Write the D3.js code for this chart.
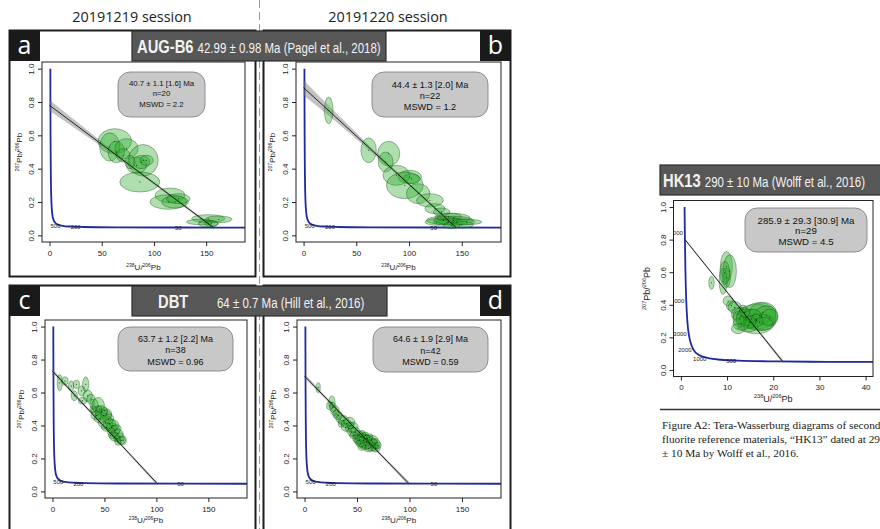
<!DOCTYPE html>
<html>
<head>
<meta charset="utf-8">
<script src="https://cdn.jsdelivr.net/npm/d3@7"></script>
<style>
body { margin: 0; background: #fff; }
svg { display: block; }
</style>
</head>
<body>
<script>
const W = 880, H = 529;

// ---------- data ----------
const sessions = ["20191219 session", "20191220 session"];
const xTicksYoung = [0, 50, 100, 150];
const xTicksOld = [0, 10, 20, 30, 40];
const yTicks = [0, 0.2, 0.4, 0.6, 0.8, 1.0];

// concordia (238U/206Pb, 207Pb/206Pb)
const concordia = [[0.80,1.0],[0.853,0.846],[0.99,0.597],[1.163,0.425],[1.687,0.223],[2.749,0.123],
  [3.817,0.0936],[5.96,0.0725],[8.72,0.0628],[12.41,0.0573],[20.99,0.0524],[31.73,0.0501],
  [63.97,0.048],[128.4,0.047],[200,0.0465]];
const concLabelsYoung = [[12.41,0.0573,"500"],[31.73,0.0501,"200"],[128.4,0.047,"50"]];
const concLabelsOld = [[0.853,0.846,"5000"],[1.163,0.425,"4000"],[1.687,0.223,"3000"],
  [2.749,0.123,"2000"],[5.96,0.0725,"1000"],[12.41,0.0573,"500"]];

// ellipses: [x, y, half-width x, half-height y]
const ellA = [[62.5,0.565,16,0.075],[57.7,0.53,9.6,0.085],[64,0.50,8,0.065],[73.7,0.52,11.2,0.06],
  [89.7,0.45,14.4,0.095],[83.3,0.42,9.6,0.05],[88,0.44,8,0.04],[86.5,0.32,19.2,0.06],
  [115.4,0.24,14.4,0.044],[113.8,0.20,17.6,0.044],[120.2,0.20,12.8,0.036],[123.4,0.22,11.2,0.03],
  [152,0.10,16,0.024],[162,0.096,12.8,0.02],[144,0.08,12.8,0.016],[152,0.07,9.6,0.02],
  [155,0.07,6.4,0.016],[70.5,0.48,6.4,0.04],[77,0.44,4.8,0.04],[93,0.45,6.4,0.03]];
const ellB = [[23.8,0.75,4.1,0.08],[61.7,0.51,7.3,0.074],[80.7,0.49,10.5,0.074],[77.8,0.44,7,0.06],
  [88,0.36,12.7,0.06],[100.7,0.35,11.1,0.04],[102.3,0.34,7.9,0.03],[96,0.30,17.5,0.08],
  [108.7,0.25,11.1,0.06],[119.8,0.21,12.7,0.04],[124.6,0.16,9.5,0.03],[130.9,0.14,7.9,0.024],
  [137.3,0.11,12.7,0.024],[142,0.104,15.9,0.028],[142,0.09,19.1,0.024],[132.5,0.09,15.9,0.024],
  [137.3,0.08,14.3,0.02],[145.2,0.08,17.5,0.02],[150,0.064,11.1,0.02],[140.4,0.06,7.9,0.02],
  [154.8,0.08,14.3,0.016],[126.2,0.08,11.1,0.02]];
const ellC = [[7,0.66,2.5,0.05],[12,0.67,3,0.025],[18,0.64,2.5,0.03],[23,0.65,3,0.025],
  [28,0.61,3.5,0.03],[32,0.65,3,0.045],[34,0.58,4.5,0.035],[37,0.56,4,0.03],[40,0.53,4,0.03],
  [42,0.49,5,0.025],[44,0.52,6,0.05],[47,0.48,6,0.04],[49,0.46,8,0.035],[42,0.46,5,0.025],
  [52,0.47,5,0.03],[54,0.44,5,0.03],[46,0.44,6,0.025],[51,0.42,7,0.04],[55,0.41,6,0.03],
  [57,0.39,5,0.025],[58,0.40,6,0.035],[52,0.39,5,0.025],[60,0.37,5,0.03],[62,0.38,4,0.025],
  [57,0.36,4,0.025],[63,0.35,5,0.025],[58,0.34,4,0.02],[60,0.33,5,0.025],[65,0.33,4,0.025],
  [62,0.32,3,0.02],[66,0.31,4,0.025],[63,0.30,3,0.02],[68,0.31,3,0.025],[21,0.58,3,0.03],
  [29,0.55,4,0.02],[39,0.50,3,0.02],[45,0.50,2.5,0.02],[50,0.49,3,0.02]];
const ellD = [[13,0.63,2,0.03],[26,0.54,3,0.04],[29,0.49,4,0.03],[32,0.46,4,0.025],[37,0.43,5,0.03],
  [40,0.41,5,0.025],[43,0.42,5,0.03],[46,0.39,5,0.03],[48,0.36,5,0.03],[51,0.34,5,0.03],
  [54,0.33,6,0.03],[56,0.31,8,0.04],[59,0.30,9,0.04],[62,0.29,8,0.03],[58,0.28,6,0.025],
  [64,0.31,6,0.03],[66,0.27,5,0.025],[61,0.26,4,0.02],[67,0.29,5,0.03],[55,0.27,4,0.02],
  [24,0.52,3,0.025],[27,0.51,3,0.03],[30,0.47,3,0.025],[34,0.44,4,0.025],[35,0.41,3,0.02],
  [39,0.39,4,0.025],[42,0.38,3,0.02],[45,0.36,4,0.025],[47,0.34,4,0.02],[50,0.32,4,0.025],
  [52,0.31,5,0.025],[53,0.29,4,0.02],[57,0.32,5,0.025],[60,0.32,4,0.02],[63,0.27,5,0.025],
  [65,0.30,4,0.02],[68,0.26,4,0.02],[70,0.28,3,0.02],[58,0.34,3,0.02],[62,0.33,3,0.02],
  [55,0.35,3,0.02],[44,0.40,3,0.02]];
const ellHK = [[9.86,0.636,1.29,0.091],[10.58,0.606,1.44,0.101],[9.86,0.566,0.86,0.061],
  [9.14,0.545,0.86,0.081],[6.62,0.535,0.58,0.04],[9.5,0.596,1.08,0.071],[10.22,0.424,1.08,0.03],
  [10.94,0.394,1.08,0.03],[11.65,0.384,1.44,0.036],[12.37,0.343,1.44,0.04],[13.09,0.333,1.8,0.051],
  [14.17,0.323,2.16,0.051],[15.25,0.313,2.52,0.061],[16.33,0.313,4.32,0.091],[17.05,0.333,3.6,0.081],
  [17.77,0.354,2.88,0.061],[18.49,0.333,2.52,0.061],[17.05,0.293,3.24,0.051],[19.21,0.323,1.8,0.051],
  [14.53,0.273,2.16,0.04],[13.09,0.283,1.8,0.04],[12.73,0.313,1.44,0.051],[16.33,0.303,1.44,0.04],
  [15.61,0.333,1.8,0.04],[13.81,0.354,1.08,0.03],[12.37,0.253,1.44,0.03],[17.77,0.283,2.16,0.04],
  [13.45,0.374,0.86,0.024],[14.89,0.293,1.29,0.036]];

// discordia end points and band half-widths
const discA = [[0,0.78],[157,0.047]];
const discB = [[0,0.886],[144.7,0.047]];
const discC = [[0,0.73],[100.7,0.048]];
const discD = [[0,0.70],[99.3,0.048]];
const discHK = [[0.9,0.80],[22.05,0.052]];
const bandA = [[0,0.032],[30,0.022],[60,0.012],[90,0.008],[120,0.008],[157,0.01]];
const bandB = [[0,0.045],[24,0.03],[60,0.015],[100,0.008],[144.7,0.008]];
const bandC = [[0,0.012],[30,0.008],[60,0.007],[100.7,0.01]];
const bandD = [[0,0.014],[30,0.009],[60,0.008],[99.3,0.013]];
const bandHK = [[0.9,0.006],[10,0.005],[15,0.007],[22.05,0.012]];

const statsA = ["40.7 ± 1.1 [1.6] Ma", "n=20", "MSWD = 2.2"];
const statsB = ["44.4 ± 1.3 [2.0] Ma", "n=22", "MSWD = 1.2"];
const statsC = ["63.7 ± 1.2 [2.2] Ma", "n=38", "MSWD = 0.96"];
const statsD = ["64.6 ± 1.9 [2.9] Ma", "n=42", "MSWD = 0.59"];
const statsHK = ["285.9 ± 29.3 [30.9] Ma", "n=29", "MSWD = 4.5"];

const bannerNames = ["AUG-B6", "DBT", "HK13"];
const bannerRefs = ["42.99 ± 0.98 Ma (Pagel et al., 2018)", "64 ± 0.7 Ma (Hill et al., 2016)",
  "290 ± 10 Ma (Wolff et al., 2016)"];
const captionLines = ["Figure A2: Tera-Wasserburg diagrams of second",
  "fluorite reference materials, \u201cHK13\u201d dated at 29",
  "± 10 Ma by Wolff et al., 2016."];

const yTitle = [["207",1],["Pb/",0],["206",1],["Pb",0]];
const xTitle = [["238",1],["U/",0],["206",1],["Pb",0]];

// ---------- drawing ----------
const svg = d3.select("body").append("svg").attr("width", W).attr("height", H)
  .style("font-family", "'Liberation Sans', Arial, sans-serif");
svg.append("rect").attr("width", W).attr("height", H).attr("fill", "#fff");

const sans = "'Liberation Sans', Arial, sans-serif";

// session headers + dashed divider
svg.selectAll(".session").data(sessions).enter().append("text")
  .attr("x", (d, i) => i === 0 ? 132 : 388).attr("y", 22)
  .attr("text-anchor", "middle").attr("font-family", "'Open Sans', sans-serif")
  .attr("font-size", 14.4).attr("fill", "#222").text(d => d);
svg.append("line").attr("x1", 259.5).attr("x2", 259.5).attr("y1", 0).attr("y2", H)
  .attr("stroke", "#999").attr("stroke-width", 1).attr("stroke-dasharray", "8,4");

// panel frames + letters
const frames = [
  {l: "a", x: 9.5, y: 30.5, w: 246, h: 246, lx: 9},
  {l: "b", x: 263.5, y: 30.5, w: 247, h: 246, lx: 480},
  {l: "c", x: 9.5, y: 285.5, w: 246, h: 270, lx: 9},
  {l: "d", x: 263.5, y: 285.5, w: 247, h: 270, lx: 480}
];
frames.forEach(f => {
  svg.append("rect").attr("x", f.x).attr("y", f.y).attr("width", f.w).attr("height", f.h)
    .attr("fill", "#fff").attr("stroke", "#1e1e1e").attr("stroke-width", 2);
  svg.append("rect").attr("x", f.lx).attr("y", f.y - 0.5).attr("width", 31).attr("height", 31)
    .attr("fill", "#1a1a1a");
  svg.append("text").attr("x", f.lx + 15.5).attr("y", f.y + 23)
    .attr("text-anchor", "middle").attr("font-family", "'Open Sans', sans-serif")
    .attr("font-size", 25).attr("fill", "#fff").text(f.l);
});

function isoText(parent, x, y, rot, parts, fs) {
  const t = parent.append("text").attr("text-anchor", "middle").attr("font-size", fs)
    .attr("fill", "#222").attr("transform", `translate(${x},${y}) rotate(${rot})`);
  let shift = 0;
  parts.forEach(p => {
    const target = p[1] ? -fs * 0.38 : 0;
    t.append("tspan").attr("dy", target - shift)
      .attr("font-size", p[1] ? fs * 0.62 : fs).text(p[0]);
    shift = target;
  });
  return t;
}

function drawPanel(p) {
  const g = svg.append("g");
  const xPad = (p.xdom[1] - p.xdom[0]) * 0.04;
  const x = d3.scaleLinear().domain([p.xdom[0] - xPad, p.xdom[1] + xPad]).range([p.box.x0, p.box.x1]);
  const y = d3.scaleLinear().domain([-0.04, 1.04]).range([p.box.y1, p.box.y0]);
  const clipId = "clip-" + p.id;
  svg.append("clipPath").attr("id", clipId).append("rect")
    .attr("x", p.box.x0).attr("y", p.box.y0)
    .attr("width", p.box.x1 - p.box.x0).attr("height", p.box.y1 - p.box.y0);
  g.append("rect").attr("x", p.box.x0).attr("y", p.box.y0)
    .attr("width", p.box.x1 - p.box.x0).attr("height", p.box.y1 - p.box.y0).attr("fill", "#fff");

  const inner = g.append("g").attr("clip-path", `url(#${clipId})`);

  // concordia
  inner.append("path").datum(concordia)
    .attr("d", d3.line().x(d => x(d[0])).y(d => y(d[1])).curve(d3.curveMonotoneX))
    .attr("fill", "none").attr("stroke", "#1f2a9c").attr("stroke-width", 1.8);
  inner.selectAll(".clab").data(p.labels).enter().append("text")
    .attr("x", d => x(d[0]) - 2).attr("y", d => y(d[1]) + 2.5)
    .attr("text-anchor", "end").attr("font-size", 6).attr("fill", "#222").text(d => d[2]);

  // discordia band
  const d0 = p.disc[0], d1 = p.disc[1];
  const lineY = xv => d0[1] + (d1[1] - d0[1]) * (xv - d0[0]) / (d1[0] - d0[0]);
  inner.append("path").datum(p.band)
    .attr("d", d3.area().x(d => x(d[0])).y0(d => y(lineY(d[0]) - d[1])).y1(d => y(lineY(d[0]) + d[1]))
      .curve(d3.curveMonotoneX))
    .attr("fill", "rgba(120,120,120,0.45)");

  // ellipses
  inner.selectAll(".ell").data(p.ell).enter().append("ellipse")
    .attr("cx", d => x(d[0])).attr("cy", d => y(d[1]))
    .attr("rx", d => x(d[2]) - x(0)).attr("ry", d => y(0) - y(d[3]))
    .attr("fill", "rgba(45,170,45,0.38)").attr("stroke", "rgba(20,70,20,0.75)").attr("stroke-width", 0.5);
  inner.selectAll(".dot").data(p.ell).enter().append("circle")
    .attr("cx", d => x(d[0])).attr("cy", d => y(d[1])).attr("r", 0.5).attr("fill", "#111");

  // discordia line
  inner.append("line").attr("x1", x(d0[0])).attr("y1", y(d0[1])).attr("x2", x(d1[0])).attr("y2", y(d1[1]))
    .attr("stroke", "#111").attr("stroke-width", 0.9);

  // stats box
  const s = p.sbox;
  g.append("rect").attr("x", s.x).attr("y", s.y).attr("width", s.w).attr("height", s.h)
    .attr("rx", 12).attr("fill", "#c8c8c8").attr("stroke", "#7a7a7a").attr("stroke-width", 0.8);
  g.selectAll(".stat").data(p.stats).enter().append("text")
    .attr("x", s.x + s.w / 2).attr("y", (d, i) => s.ty + i * s.dy)
    .attr("text-anchor", "middle").attr("font-size", s.fs).attr("fill", "#111").text(d => d);

  // plot box
  g.append("rect").attr("x", p.box.x0).attr("y", p.box.y0)
    .attr("width", p.box.x1 - p.box.x0).attr("height", p.box.y1 - p.box.y0)
    .attr("fill", "none").attr("stroke", "#222").attr("stroke-width", 1);

  // axes
  const ax = g.append("g").attr("transform", `translate(0,${p.box.y1})`)
    .call(d3.axisBottom(x).tickValues(p.xticks).tickSize(4).tickPadding(4));
  ax.select(".domain").remove();
  ax.selectAll("text").attr("font-size", p.tickFs).attr("font-family", sans).attr("fill", "#222");
  ax.selectAll("line").attr("stroke", "#222");

  const ay = g.append("g").attr("transform", `translate(${p.box.x0},0)`)
    .call(d3.axisLeft(y).tickValues(yTicks).tickFormat(d3.format(".1f")).tickSize(4));
  ay.select(".domain").remove();
  ay.selectAll("line").attr("stroke", "#222");
  ay.selectAll("text").attr("transform", "rotate(-90)").attr("x", 0).attr("y", -8).attr("dy", 0)
    .attr("text-anchor", "middle").attr("font-size", p.tickFs).attr("font-family", sans).attr("fill", "#222");

  isoText(g, (p.box.x0 + p.box.x1) / 2, p.box.y1 + p.xTitleDy, 0, xTitle, p.titleFs);
  isoText(g, p.box.x0 - p.yTitleDx, (p.box.y0 + p.box.y1) / 2, -90, yTitle, p.titleFs);
}

const panels = [
  {id: "a", ell: ellA, disc: discA, band: bandA, stats: statsA, labels: concLabelsYoung,
   xdom: [0, 180], xticks: xTicksYoung, box: {x0: 42, x1: 245, y0: 62, y1: 242},
   sbox: {x: 118, y: 72, w: 87, h: 45, fs: 7.8, ty: 85.5, dy: 10.6}, tickFs: 8, titleFs: 8, xTitleDy: 28, yTitleDx: 20},
  {id: "b", ell: ellB, disc: discB, band: bandB, stats: statsB, labels: concLabelsYoung,
   xdom: [0, 180], xticks: xTicksYoung, box: {x0: 296, x1: 501, y0: 62, y1: 242},
   sbox: {x: 372, y: 72, w: 116, h: 45, fs: 9.2, ty: 88, dy: 10.8}, tickFs: 8, titleFs: 8, xTitleDy: 28, yTitleDx: 21},
  {id: "c", ell: ellC, disc: discC, band: bandC, stats: statsC, labels: concLabelsYoung,
   xdom: [0, 180], xticks: xTicksYoung, box: {x0: 45, x1: 247, y0: 320, y1: 498},
   sbox: {x: 118, y: 327, w: 115, h: 44, fs: 9, ty: 341.5, dy: 11.5}, tickFs: 8, titleFs: 8, xTitleDy: 25, yTitleDx: 21},
  {id: "d", ell: ellD, disc: discD, band: bandD, stats: statsD, labels: concLabelsYoung,
   xdom: [0, 180], xticks: xTicksYoung, box: {x0: 297, x1: 501, y0: 320, y1: 498},
   sbox: {x: 373, y: 327, w: 115, h: 45, fs: 9, ty: 342, dy: 11.5}, tickFs: 8, titleFs: 8, xTitleDy: 25, yTitleDx: 21},
  {id: "hk", ell: ellHK, disc: discHK, band: bandHK, stats: statsHK, labels: concLabelsOld,
   xdom: [0, 40], xticks: xTicksOld, box: {x0: 673.5, x1: 873, y0: 200.5, y1: 376.5},
   sbox: {x: 745, y: 208, w: 122, h: 44, fs: 9.7, ty: 223.5, dy: 10.8}, tickFs: 8, titleFs: 9, xTitleDy: 25, yTitleDx: 24}
];
panels.forEach(drawPanel);

// banners (condensed look via horizontal scale)
const banners = [
  {x: 132, y: 31, w: 254, nx: 137, rx: null},
  {x: 132, y: 286, w: 255, nx: 158, rx: 217},
  {x: 660, y: 165, w: 225, nx: 663, rx: null}
];
const squeeze = 0.82;
banners.forEach((b, i) => {
  svg.append("rect").attr("x", b.x).attr("y", b.y).attr("width", b.w).attr("height", 30)
    .attr("fill", "#575757").attr("stroke", "#2e2e2e").attr("stroke-width", 1.2);
  const t = svg.append("text").attr("transform", `translate(${b.nx},${b.y + 22}) scale(${squeeze},1)`)
    .attr("font-family", sans).attr("fill", "#f2f2f2");
  t.append("tspan").attr("font-weight", "bold").attr("font-size", 18).text(bannerNames[i]);
  const r = t.append("tspan").attr("font-size", 14).text(bannerRefs[i]);
  if (b.rx !== null) r.attr("x", (b.rx - b.nx) / squeeze); else r.attr("dx", 5);
});

// caption
svg.append("line").attr("x1", 660).attr("x2", W).attr("y1", 409.5).attr("y2", 409.5)
  .attr("stroke", "#333").attr("stroke-width", 1.4);
svg.selectAll(".cap").data(captionLines).enter().append("text")
  .attr("x", 662).attr("y", (d, i) => 429 + i * 14)
  .attr("font-family", "'Liberation Serif', 'Times New Roman', serif").attr("font-size", 11.3)
  .attr("fill", "#222").text(d => d);
</script>
</body>
</html>
